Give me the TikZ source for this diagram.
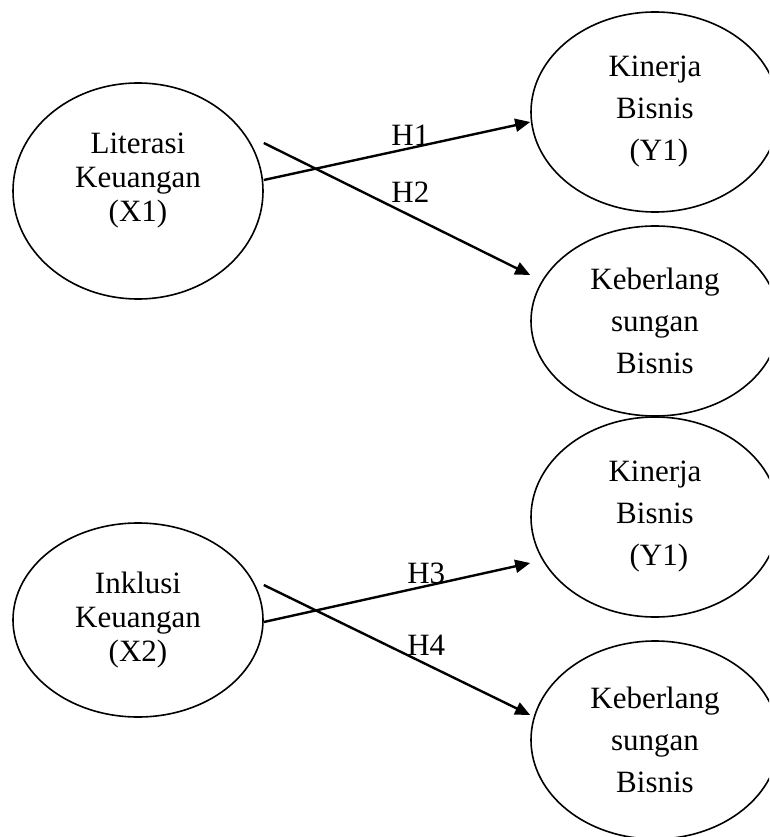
\documentclass[tikz,border=0pt]{standalone}
\usepackage{fontspec}
\setmainfont{Liberation Serif}
\usetikzlibrary{shapes.geometric,arrows.meta}

\begin{document}
\begin{tikzpicture}[x=1pt,y=-1pt,
        var/.style={draw, ellipse, line width=1.6pt, inner sep=0pt, align=center,
            font=\fontsize{31pt}{34pt}\selectfont},
        rvar/.style={var, minimum width=248pt, font=\fontsize{31pt}{42pt}\selectfont},
        hyp/.style={line width=2.4pt, -{Triangle[length=15pt,width=13pt]}},
        lbl/.style={font=\fontsize{31pt}{31pt}\selectfont, inner sep=0pt}]
    \clip (0,0) rectangle (769,837);

    % Left: the two independent variables
    \node[var, minimum width=250pt, minimum height=216pt] (lit) at (138,191) {Literasi\\Keuangan\\(X1)\\[-6pt]};
    \node[var, minimum width=250pt, minimum height=194pt] (ink) at (138,620) {Inklusi\\Keuangan\\(X2)};

    % Right: the dependent variables, cut at the page edge
    \node[rvar, minimum height=200pt] (kin1) at (655,112) {Kinerja\\Bisnis\\\hspace*{0.25em}(Y1)};
    \node[rvar, minimum height=190pt] (keb1) at (655,321) {Keberlang\\sungan\\Bisnis};
    \node[rvar, minimum height=200pt] (kin2) at (655,517) {Kinerja\\Bisnis\\\hspace*{0.25em}(Y1)};
    \node[rvar, minimum height=198pt] (keb2) at (655,740) {Keberlang\\sungan\\Bisnis};

    % Hypotheses H1 - H4
    \draw[hyp] ([yshift=11pt]lit.east) -- node[lbl, pos=0.55, yshift=13pt] {H1} ([yshift=-10pt]kin1.west);
    \draw[hyp] ([yshift=48pt]lit.east) -- node[lbl, pos=0.55, yshift=23pt] {H2} ([yshift=46pt]keb1.west);
    \draw[hyp] ([yshift=-2pt]ink.east) -- node[lbl, pos=0.61, yshift=13pt] {H3} ([yshift=-46pt]kin2.west);
    \draw[hyp] ([yshift=35pt]ink.east) -- node[lbl, pos=0.61, yshift=19pt] {H4} ([yshift=25pt]keb2.west);
\end{tikzpicture}
\end{document}
